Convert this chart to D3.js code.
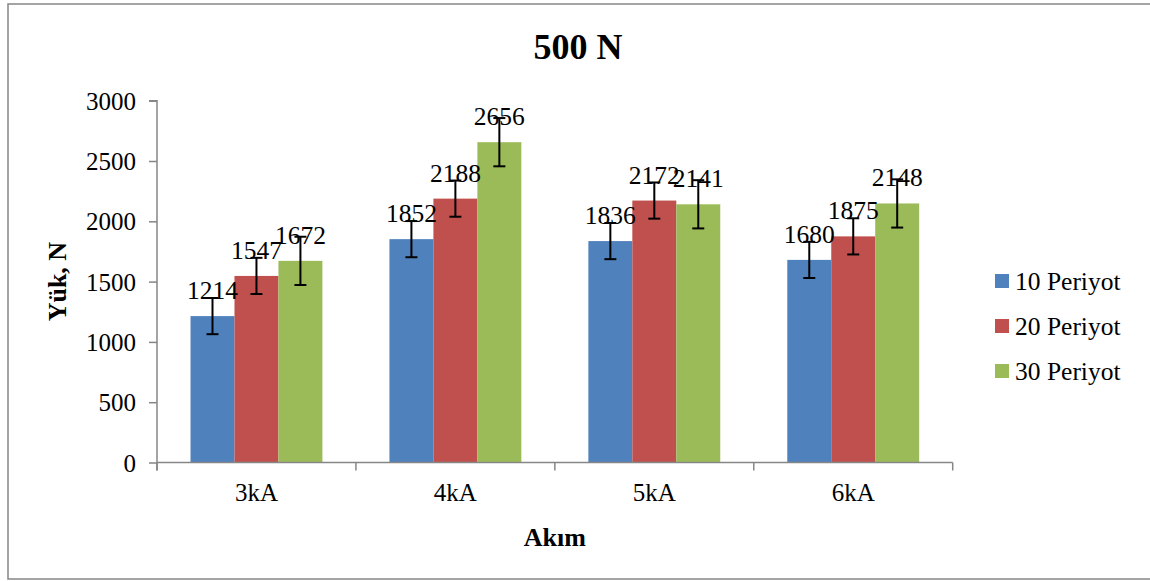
<!DOCTYPE html>
<html>
<head>
<meta charset="utf-8">
<script src="https://cdn.jsdelivr.net/npm/d3@7"></script>
<style>
  html, body { margin: 0; padding: 0; background: #fff; }
  svg { display: block; }
  svg text { font-family: "Liberation Serif", "Times New Roman", serif; }
</style>
</head>
<body>
<svg id="chart" width="1150" height="581"></svg>
<script>
// ---- data ----
const categories = ["3kA", "4kA", "5kA", "6kA"];
const seriesNames = ["10 Periyot", "20 Periyot", "30 Periyot"];
const values10 = [1214, 1852, 1836, 1680];
const values20 = [1547, 2188, 2172, 1875];
const values30 = [1672, 2656, 2141, 2148];
const errors10 = [150, 150, 150, 150];
const errors20 = [150, 150, 150, 150];
const errors30 = [200, 200, 200, 200];
const yTicks = [0, 500, 1000, 1500, 2000, 2500, 3000];
const colors = ["#4F81BD", "#C0504D", "#9BBB59"];

const seriesValues = [values10, values20, values30];
const seriesErrors = [errors10, errors20, errors30];

const FONT = "Liberation Serif, Times New Roman, serif";
const svg = d3.select("#chart");
const axisColor = "#868686";

// outer border
svg.append("rect")
  .attr("x", 8).attr("y", 4)
  .attr("width", 1160).attr("height", 575)
  .attr("fill", "none").attr("stroke", axisColor).attr("stroke-width", 1.5);

const plot = { left: 157, right: 952.7, top: 100.7, bottom: 462.5 };

const x = d3.scaleBand().domain(categories)
  .range([plot.left, plot.right])
  .paddingInner(0.337).paddingOuter(0.1685);
const xs = d3.scaleBand().domain(seriesNames).range([0, x.bandwidth()]).padding(0);
const y = d3.scaleLinear().domain([0, 3000]).range([plot.bottom, plot.top]);

// title
svg.append("text").attr("x", 578).attr("y", 59)
  .attr("text-anchor", "middle").attr("font-size", 36).attr("font-weight", "bold")
  .attr("font-family", FONT)
  .text("500 N");

// bars
const groups = svg.append("g").selectAll("g")
  .data(categories).join("g")
  .attr("transform", d => `translate(${x(d)},0)`);

seriesNames.forEach((s, si) => {
  groups.append("rect")
    .attr("x", xs(s))
    .attr("width", xs.bandwidth())
    .attr("y", (d, i) => y(seriesValues[si][i]))
    .attr("height", (d, i) => y(0) - y(seriesValues[si][i]))
    .attr("fill", colors[si]);
});

// y axis
const yAxis = d3.axisLeft(y).tickValues(yTicks).tickSize(8).tickPadding(13).tickFormat(d3.format("d"));
const yg = svg.append("g").attr("transform", `translate(${plot.left},0)`).call(yAxis)
  .attr("font-family", FONT);
yg.select(".domain").attr("stroke", axisColor).attr("stroke-width", 1.5)
  .attr("d", `M-8,${plot.top}H0V${plot.bottom + 8}`);
yg.selectAll(".tick line").attr("stroke", axisColor).attr("stroke-width", 1.5);
yg.selectAll(".tick text").attr("font-size", 25).attr("fill", "#000")
  .attr("font-family", FONT).attr("dy", "0.34em");

// x axis
const xg = svg.append("g").attr("transform", `translate(0,${plot.bottom})`)
  .call(d3.axisBottom(x).tickSize(0).tickPadding(21))
  .attr("font-family", FONT);
xg.select(".domain").attr("stroke", axisColor).attr("stroke-width", 1.5)
  .attr("d", `M${plot.left},0H${plot.right}`);
xg.selectAll(".tick text").attr("font-size", 25).attr("fill", "#000")
  .attr("font-family", FONT);
// boundary ticks between categories
const step = x.step();
const boundaries = d3.range(categories.length + 1).map(i => plot.left + i * step);
xg.selectAll(".bt").data(boundaries).join("line")
  .attr("class", "bt")
  .attr("x1", d => d).attr("x2", d => d)
  .attr("y1", 0).attr("y2", 8)
  .attr("stroke", axisColor).attr("stroke-width", 1.5);

// error bars and labels
seriesNames.forEach((s, si) => {
  const cx = (d) => xs(s) + xs.bandwidth() / 2;
  const eb = groups.append("g").attr("class", "err");
  eb.append("line")
    .attr("x1", cx).attr("x2", cx)
    .attr("y1", (d, i) => y(seriesValues[si][i] + seriesErrors[si][i]))
    .attr("y2", (d, i) => y(seriesValues[si][i] - seriesErrors[si][i]))
    .attr("stroke", "#000").attr("stroke-width", 2);
  [1, -1].forEach(sign => {
    eb.append("line")
      .attr("x1", d => cx(d) - 6).attr("x2", d => cx(d) + 6)
      .attr("y1", (d, i) => y(seriesValues[si][i] + sign * seriesErrors[si][i]))
      .attr("y2", (d, i) => y(seriesValues[si][i] + sign * seriesErrors[si][i]))
      .attr("stroke", "#000").attr("stroke-width", 2);
  });
  groups.append("text")
    .attr("x", cx)
    .attr("y", (d, i) => y(seriesValues[si][i]) - 17)
    .attr("text-anchor", "middle").attr("font-size", 25.5)
    .attr("font-family", FONT)
    .text((d, i) => seriesValues[si][i]);
});

// axis titles
svg.append("text")
  .attr("transform", `translate(66,${(plot.top + plot.bottom) / 2}) rotate(-90)`)
  .attr("text-anchor", "middle").attr("font-size", 26).attr("font-weight", "bold")
  .attr("font-family", FONT)
  .text("Yük, N");
svg.append("text")
  .attr("x", (plot.left + plot.right) / 2).attr("y", 546)
  .attr("text-anchor", "middle").attr("font-size", 26).attr("font-weight", "bold")
  .attr("font-family", FONT)
  .text("Akım");

// legend
const legend = svg.append("g").selectAll("g").data(seriesNames).join("g")
  .attr("transform", (d, i) => `translate(995,${274 + i * 45})`);
legend.append("rect").attr("width", 14).attr("height", 14)
  .attr("fill", (d, i) => colors[i]);
legend.append("text").attr("x", 20).attr("y", 15.5)
  .attr("font-size", 25.5).attr("font-family", FONT).text(d => d);
</script>
</body>
</html>
